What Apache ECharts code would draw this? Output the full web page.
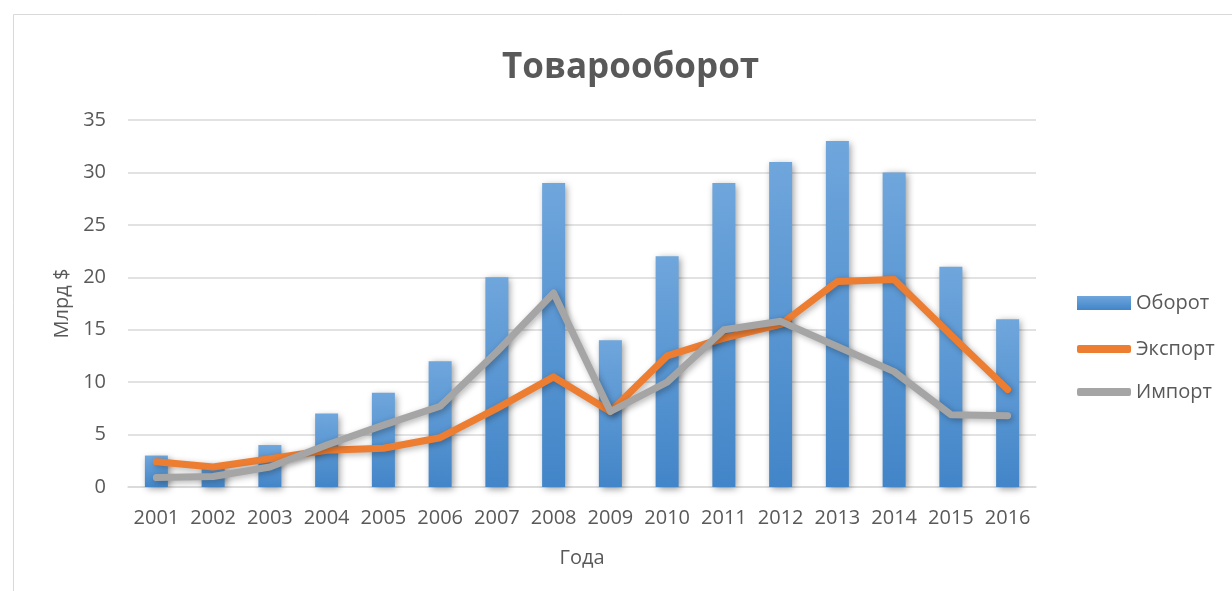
<!DOCTYPE html>
<html><head><meta charset="utf-8">
<script src="https://cdn.jsdelivr.net/npm/echarts@6/dist/echarts.min.js"></script>
<style>html,body{margin:0;padding:0;background:#fff}#c{width:1232px;height:591px}</style>
</head><body><div id="c"></div>
<script>
const years = ['2001','2002','2003','2004','2005','2006','2007','2008','2009','2010','2011','2012','2013','2014','2015','2016'];
const turnover = [3, 2, 4, 7, 9, 12, 20, 29, 14, 22, 29, 31, 33, 30, 21, 16];
const exportVals = [2.4, 1.9, 2.7, 3.5, 3.7, 4.7, 7.5, 10.5, 7.2, 12.5, 14.2, 15.5, 19.6, 19.8, 14.5, 9.3];
const importVals = [0.9, 1.0, 1.9, 4.0, 5.9, 7.7, 12.9, 18.5, 7.2, 10.0, 15.0, 15.8, 13.4, 11.0, 6.9, 6.8];

const FONT = '"Open Sans", "Noto Sans", sans-serif';
const TXT = '#595959';
const chart = echarts.init(document.getElementById('c'));
const legendBase = {
  orient: 'vertical', left: 1072, itemWidth: 54, itemGap: 5,
  textStyle: {color: TXT, fontSize: 20, fontFamily: FONT}
};
chart.setOption({
  animation: false,
  backgroundColor: '#fff',
  graphic: [{type: 'rect', shape: {x: 13.5, y: 14.5, width: 1400, height: 800}, style: {fill: 'none', stroke: '#d9d9d9', lineWidth: 1}, silent: true}],
  title: {text: 'Товарооборот', left: 497, top: 46,
    textStyle: {color: TXT, fontSize: 35, fontWeight: 'bold', fontFamily: FONT}},
  legend: [
    Object.assign({}, legendBase, {top: 288, itemHeight: 14, data: [{name: 'Оборот', icon: 'rect'}]}),
    Object.assign({}, legendBase, {top: 334, itemHeight: 8, data: [{name: 'Экспорт', icon: 'roundRect'}]}),
    Object.assign({}, legendBase, {top: 377, itemHeight: 8, data: [{name: 'Импорт', icon: 'roundRect'}]})
  ],
  grid: {left: 128, right: 196, top: 120, bottom: 104},
  xAxis: {
    type: 'category', data: years,
    name: 'Года', nameLocation: 'middle', nameGap: 61,
    nameTextStyle: {color: TXT, fontSize: 20, fontFamily: FONT},
    axisLine: {lineStyle: {color: '#d9d9d9', width: 1.5}},
    axisTick: {show: false},
    axisLabel: {color: TXT, fontSize: 20, fontFamily: FONT, margin: 21, interval: 0}
  },
  yAxis: {
    type: 'value', min: 0, max: 35, interval: 5,
    name: 'Млрд $', nameLocation: 'middle', nameGap: 56, nameRotate: 90,
    nameTextStyle: {color: TXT, fontSize: 20, fontFamily: FONT},
    axisLine: {show: false}, axisTick: {show: false},
    axisLabel: {color: TXT, fontSize: 20, fontFamily: FONT, margin: 22},
    splitLine: {lineStyle: {color: '#d9d9d9', width: 1.5}}
  },
  series: [
    {name: 'Оборот', type: 'bar', data: turnover, barWidth: 23,
      itemStyle: {
        color: new echarts.graphic.LinearGradient(0, 0, 0, 1, [{offset: 0, color: '#6fa6dc'}, {offset: 1, color: '#4285c8'}]),
        shadowBlur: 7, shadowColor: 'rgba(0,0,0,0.4)', shadowOffsetX: 2, shadowOffsetY: 2
      }},
    {name: 'Экспорт', type: 'line', data: exportVals, showSymbol: false, symbol: 'none',
      itemStyle: {color: '#ed7d31'},
      lineStyle: {color: '#ed7d31', width: 7, cap: 'round', join: 'round',
        shadowBlur: 6, shadowColor: 'rgba(0,0,0,0.3)', shadowOffsetX: 2, shadowOffsetY: 2}},
    {name: 'Импорт', type: 'line', data: importVals, showSymbol: false, symbol: 'none',
      itemStyle: {color: '#a5a5a5'},
      lineStyle: {color: '#a5a5a5', width: 7, cap: 'round', join: 'round',
        shadowBlur: 6, shadowColor: 'rgba(0,0,0,0.3)', shadowOffsetX: 2, shadowOffsetY: 2}}
  ]
});
</script></body></html>
